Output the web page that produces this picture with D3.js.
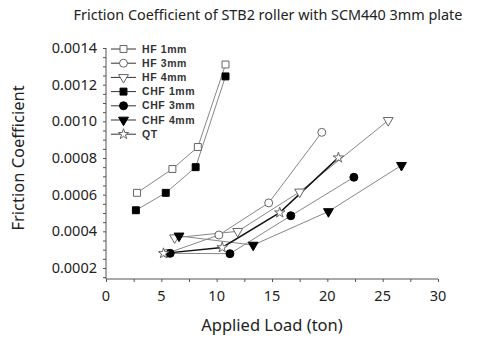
<!DOCTYPE html>
<html>
<head>
<meta charset="UTF-8">
<script src="https://d3js.org/d3.v7.min.js"></script>
<style>
body { margin: 0; background: #fff; }
</style>
</head>
<body>
<svg></svg>
<script>
// values: applied load (ton) and friction coefficient
const hf1Load = [2.8, 6.0, 8.3, 10.8];
const hf1Mu   = [0.00061, 0.00074, 0.00086, 0.00131];
const hf3Load = [5.5, 10.2, 14.7, 19.5];
const hf3Mu   = [0.00028, 0.00038, 0.000555, 0.00094];
const hf4Load = [6.2, 11.9, 17.5, 25.5];
const hf4Mu   = [0.000365, 0.0004, 0.000615, 0.001005];
const chf1Load = [2.7, 5.4, 8.1, 10.8];
const chf1Mu   = [0.000515, 0.00061, 0.00075, 0.001245];
const chf3Load = [5.8, 11.2, 16.7, 22.4];
const chf3Mu   = [0.00028, 0.000278, 0.000485, 0.000695];
const chf4Load = [6.6, 13.3, 20.1, 26.7];
const chf4Mu   = [0.000375, 0.000325, 0.000508, 0.00076];
const qtLoad = [5.2, 10.5, 15.7, 21.0];
const qtMu   = [0.00028, 0.000312, 0.000502, 0.000802];

const xTicks = [0, 5, 10, 15, 20, 25, 30];
const yTicks = [0.0002, 0.0004, 0.0006, 0.0008, 0.0010, 0.0012, 0.0014];

const series = [
  {name: "HF 1mm",  load: hf1Load,  mu: hf1Mu,  shape: "square",   fill: false},
  {name: "HF 3mm",  load: hf3Load,  mu: hf3Mu,  shape: "circle",   fill: false},
  {name: "HF 4mm",  load: hf4Load,  mu: hf4Mu,  shape: "triangle", fill: false},
  {name: "CHF 1mm", load: chf1Load, mu: chf1Mu, shape: "square",   fill: true},
  {name: "CHF 3mm", load: chf3Load, mu: chf3Mu, shape: "circle",   fill: true},
  {name: "CHF 4mm", load: chf4Load, mu: chf4Mu, shape: "triangle", fill: true},
  {name: "QT",      load: qtLoad,   mu: qtMu,   shape: "star",     fill: false}
];

const width = 481, height = 341;
const svg = d3.select("svg").attr("width", width).attr("height", height);

const x = d3.scaleLinear().domain([0, 30]).range([106, 438]);
const y = d3.scaleLinear().domain([0.00014, 0.0014]).range([279, 48]);

const axisColor = "#555";
const font = "'Noto Sans', 'Open Sans', sans-serif";

// title
svg.append("text")
  .attr("x", 268).attr("y", 20)
  .attr("text-anchor", "middle")
  .style("font-family", font).style("font-size", "14.4px").style("fill", "#222")
  .text("Friction Coefficient of STB2 roller with SCM440 3mm plate");

// x axis
const xAxis = svg.append("g").attr("transform", "translate(0,279)");
xAxis.call(d3.axisBottom(x).tickValues(d3.range(0, 30.1, 2.5)).tickSize(3).tickFormat(""));
xAxis.selectAll(".tick line").attr("stroke", axisColor);
xAxis.select(".domain").attr("stroke", axisColor).attr("d", "M106,0H438");
xAxis.append("g").selectAll("text").data(xTicks).join("text")
  .attr("x", d => x(d)).attr("y", 22)
  .attr("text-anchor", "middle")
  .style("font-family", font).style("font-size", "14.5px").style("fill", "#222")
  .text(d => d);

// y axis
const yAxis = svg.append("g").attr("transform", "translate(106,0)");
yAxis.call(d3.axisLeft(y).tickValues(d3.range(0.00015, 0.001401, 0.00005)).tickSize(3).tickFormat(""));
yAxis.selectAll(".tick line").attr("stroke", axisColor);
yAxis.select(".domain").attr("stroke", axisColor).attr("d", "M0,279V48");
yAxis.append("g").selectAll("text").data(yTicks).join("text")
  .attr("x", -9).attr("y", d => y(d))
  .attr("dy", "0.35em")
  .attr("text-anchor", "end")
  .style("font-family", font).style("font-size", "14.5px").style("fill", "#222")
  .text(d => d.toFixed(4));

// axis titles
svg.append("text")
  .attr("x", 272).attr("y", 331)
  .attr("text-anchor", "middle")
  .style("font-family", font).style("font-size", "16.5px").style("fill", "#222")
  .text("Applied Load (ton)");
svg.append("text")
  .attr("transform", "translate(24,158) rotate(-90)")
  .attr("text-anchor", "middle")
  .style("font-family", font).style("font-size", "16.5px").style("fill", "#222")
  .text("Friction  Coefficient");

function symbolPath(shape) {
  if (shape == "square") return d3.symbol(d3.symbolSquare, 48)();
  if (shape == "circle") return d3.symbol(d3.symbolCircle, 50)();
  if (shape == "triangle") return d3.symbol(d3.symbolTriangle, 42)();
  return d3.symbol(d3.symbolStar, 34)();
}

function drawMarker(g, s, cx, cy) {
  g.append("path")
    .attr("d", symbolPath(s.shape))
    .attr("transform", `translate(${cx},${cy})` + (s.shape == "triangle" ? " rotate(180)" : ""))
    .attr("fill", s.fill ? "#000" : "#fff")
    .attr("stroke", s.fill ? "#000" : "#666")
    .attr("stroke-width", 1);
}

const line = d3.line().x(d => x(d[0])).y(d => y(d[1]));

// lines first, then markers
const plot = svg.append("g");
series.forEach(s => {
  const pts = d3.zip(s.load, s.mu);
  plot.append("path")
    .attr("d", line(pts))
    .attr("fill", "none")
    .attr("stroke", s.name == "QT" ? "#111" : "#888")
    .attr("stroke-width", s.name == "QT" ? 1.4 : 1);
});
series.forEach(s => {
  const g = plot.append("g");
  d3.zip(s.load, s.mu).forEach(p => drawMarker(g, s, x(p[0]), y(p[1])));
});

// legend
const legend = svg.append("g");
series.forEach((s, i) => {
  const ly = 49 + i * 14.2;
  legend.append("line")
    .attr("x1", 111).attr("x2", 136).attr("y1", ly).attr("y2", ly)
    .attr("stroke", "#333").attr("stroke-width", 1);
  drawMarker(legend, s, 123.5, ly);
  legend.append("text")
    .attr("x", 142).attr("y", ly).attr("dy", "0.35em")
    .style("font-family", "'Liberation Sans', Arial, sans-serif")
    .style("font-size", "10.5px").style("font-weight", "bold")
    .style("letter-spacing", "0.6px").style("fill", "#333")
    .text(s.name);
});
</script>
</body>
</html>
